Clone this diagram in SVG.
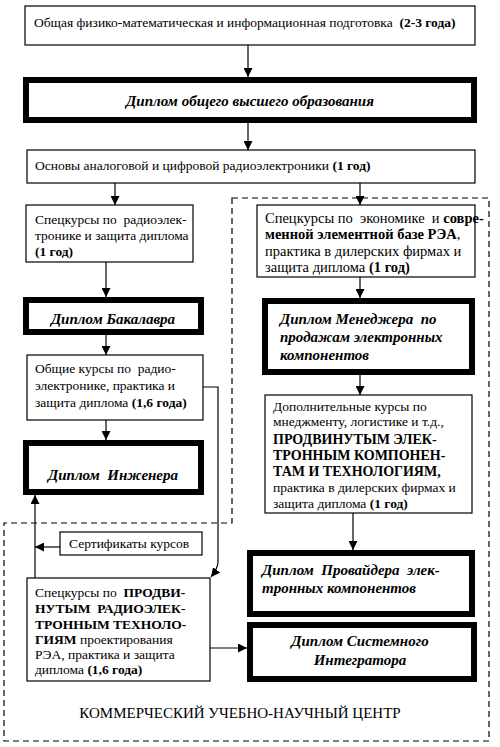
<svg xmlns="http://www.w3.org/2000/svg" width="500" height="747" viewBox="0 0 500 747">
<style>
  .box { fill: #fff; stroke: #000; stroke-width: 1.2; }
  .thick { fill: #fff; stroke: #000; stroke-width: 6; }
  text { white-space: pre; }
  .t { font-family: "Liberation Serif", "DejaVu Serif", "Times New Roman", serif; font-size: 13.5px; fill: #000; }
  .b { font-weight: bold; }
  .cap { font-family: "Liberation Serif", "DejaVu Serif", "Times New Roman", serif; font-size: 14px; font-weight: bold; fill: #000; }
  .dip { font-family: "Liberation Serif", "DejaVu Serif", "Times New Roman", serif; font-size: 15px; font-weight: bold; font-style: italic; fill: #000; }
  .conn { fill: none; stroke: #000; stroke-width: 1.2; }
  .dash { fill: none; stroke: #000; stroke-width: 1.2; stroke-dasharray: 6 4; }
</style>
<defs>
  <marker id="arr" viewBox="0 0 10 10" refX="10" refY="5" markerUnits="userSpaceOnUse" markerWidth="9" markerHeight="9" orient="auto">
    <path d="M0,0 L10,5 L0,10 Z" fill="#000"/>
  </marker>
</defs>
<rect width="500" height="747" fill="#fff"/>

<g id="commercial-center">
  <path class="dash" d="M232,198 H489 V741 H4 V523 H232 Z"/>
  <text class="t" x="240" y="718" text-anchor="middle" style="font-size:15px">КОММЕРЧЕСКИЙ УЧЕБНО-НАУЧНЫЙ ЦЕНТР</text>
</g>

<g id="connectors">
  <line class="conn" x1="248" y1="45" x2="248" y2="77" marker-end="url(#arr)"/>
  <line class="conn" x1="248" y1="123" x2="248" y2="150" marker-end="url(#arr)"/>
  <line class="conn" x1="115" y1="183" x2="115" y2="205" marker-end="url(#arr)"/>
  <line class="conn" x1="360" y1="183" x2="360" y2="205" marker-end="url(#arr)"/>
  <line class="conn" x1="106" y1="262" x2="106" y2="297" marker-end="url(#arr)"/>
  <line class="conn" x1="106" y1="335" x2="106" y2="355" marker-end="url(#arr)"/>
  <line class="conn" x1="106" y1="420" x2="106" y2="440" marker-end="url(#arr)"/>
  <path class="conn" d="M203,387 H218 V562 Q218,568 211,577" marker-end="url(#arr)"/>
  <line class="conn" x1="35" y1="578" x2="35" y2="495" marker-end="url(#arr)"/>
  <line class="conn" x1="60" y1="547" x2="35" y2="547" marker-end="url(#arr)"/>
  <line class="conn" x1="210" y1="648" x2="247" y2="648" marker-end="url(#arr)"/>
  <line class="conn" x1="360" y1="277" x2="360" y2="298" marker-end="url(#arr)"/>
  <line class="conn" x1="360" y1="375" x2="360" y2="395" marker-end="url(#arr)"/>
  <line class="conn" x1="353" y1="513" x2="353" y2="550" marker-end="url(#arr)"/>
</g>

<g id="n1">
  <rect class="box" x="25" y="6" width="450" height="39"/>
  <text class="t" x="34" y="27">Общая физико-математическая и информационная подготовка  <tspan class="b">(2-3 года)</tspan></text>
</g>

<g id="n2">
  <rect class="thick" x="26" y="80" width="448" height="40"/>
  <text class="dip" x="250" y="106" text-anchor="middle">Диплом общего высшего образования</text>
</g>

<g id="n3">
  <rect class="box" x="27" y="150" width="448" height="33"/>
  <text class="t" x="35" y="170">Основы аналоговой и цифровой радиоэлектроники <tspan class="b">(1 год)</tspan></text>
</g>

<g id="n4">
  <rect class="box" x="26" y="205" width="167" height="57"/>
  <text class="t" x="35" y="224">Спецкурсы по  радиоэлек-</text>
  <text class="t" x="35" y="240">тронике и защита диплома</text>
  <text class="t b" x="35" y="256">(1 год)</text>
</g>

<g id="n5">
  <rect class="thick" x="26" y="300" width="175" height="32"/>
  <text class="dip" x="113" y="324" text-anchor="middle">Диплом Бакалавра</text>
</g>

<g id="n6">
  <rect class="box" x="27" y="355" width="176" height="65"/>
  <text class="t" x="35" y="373">Общие курсы по  радио-</text>
  <text class="t" x="35" y="390">электронике, практика и</text>
  <text class="t" x="35" y="407">защита диплома <tspan class="b">(1,6 года)</tspan></text>
</g>

<g id="n7">
  <rect class="thick" x="26" y="443" width="175" height="49"/>
  <text class="dip" x="113" y="480" text-anchor="middle">Диплом  Инженера</text>
</g>

<g id="n8">
  <rect class="box" x="257" y="205" width="218" height="72"/>
  <text class="t" x="265" y="223" style="font-size:14.5px">Спецкурсы по  экономике  и <tspan class="b">совре-</tspan></text>
  <text class="t b" x="265" y="239" style="font-size:14.5px">менной элементной базе РЭА<tspan style="font-weight:normal">,</tspan></text>
  <text class="t" x="265" y="256" style="font-size:14.5px">практика в дилерских фирмах и</text>
  <text class="t" x="265" y="272" style="font-size:14.5px">защита диплома <tspan class="b">(1 год)</tspan></text>
</g>

<g id="n9">
  <rect class="thick" x="265" y="301" width="207" height="71"/>
  <text class="dip" x="280" y="324">Диплом Менеджера  по</text>
  <text class="dip" x="280" y="342">продажам электронных</text>
  <text class="dip" x="280" y="360">компонентов</text>
</g>

<g id="n10">
  <rect class="box" x="265" y="395" width="207" height="118"/>
  <text class="t" x="273" y="411">Дополнительные курсы по</text>
  <text class="t" x="273" y="426">мнеджменту, логистике и т.д.,</text>
  <text class="cap" x="273" y="444">ПРОДВИНУТЫМ ЭЛЕК-</text>
  <text class="cap" x="273" y="460">ТРОННЫМ КОМПОНЕН-</text>
  <text class="cap" x="273" y="476">ТАМ И ТЕХНОЛОГИЯМ,</text>
  <text class="t" x="273" y="492">практика в дилерских фирмах и</text>
  <text class="t" x="273" y="508">защита диплома <tspan class="b">(1 год)</tspan></text>
</g>

<g id="n11">
  <rect class="thick" x="250" y="553" width="222" height="61"/>
  <text class="dip" x="262" y="575">Диплом  Провайдера  элек-</text>
  <text class="dip" x="262" y="593">тронных компонентов</text>
</g>

<g id="n12">
  <rect class="box" x="60" y="532" width="142" height="23"/>
  <text class="t" x="69" y="548">Сертификаты курсов</text>
</g>

<g id="n13">
  <rect class="box" x="27" y="578" width="183" height="103"/>
  <text class="t" x="35" y="597">Спецкурсы по  <tspan class="b">ПРОДВИ-</tspan></text>
  <text class="cap" x="35" y="613" style="font-size:13.5px">НУТЫМ  РАДИОЭЛЕК-</text>
  <text class="cap" x="35" y="629" style="font-size:13.5px">ТРОННЫМ ТЕХНОЛО-</text>
  <text class="t" x="35" y="644"><tspan class="b">ГИЯМ</tspan> проектирования</text>
  <text class="t" x="35" y="659">РЭА, практика и защита</text>
  <text class="t" x="35" y="674">диплома <tspan class="b">(1,6 года)</tspan></text>
</g>

<g id="n14">
  <rect class="thick" x="250" y="625" width="224" height="54"/>
  <text class="dip" x="360" y="646" text-anchor="middle">Диплом Системного</text>
  <text class="dip" x="360" y="665" text-anchor="middle">Интегратора</text>
</g>
</svg>
